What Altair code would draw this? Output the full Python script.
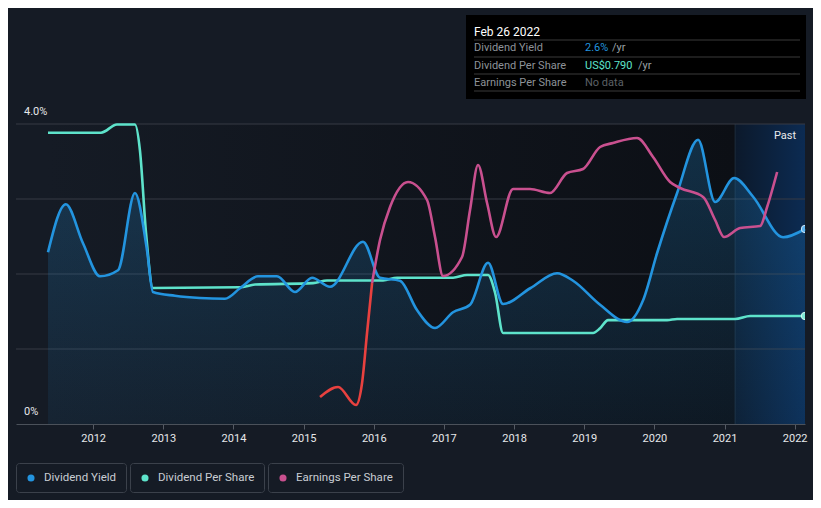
import altair as alt
import pandas as pd

# ---------------- data ----------------
dy_year = [2011.356, 2011.61, 2011.855, 2012.097, 2012.354, 2012.596, 2012.767, 2012.852,
           2013.166, 2013.522, 2013.879, 2014.093, 2014.349, 2014.62, 2014.877, 2015.12,
           2015.376, 2015.846, 2016.089, 2016.374, 2016.616, 2016.873, 2017.13, 2017.372,
           2017.629, 2017.843, 2018.23, 2018.613, 2018.841, 2019.226, 2019.611, 2019.839,
           2020.039, 2020.324, 2020.623, 2020.866, 2021.137, 2021.407, 2021.835, 2022.147]
dy_val = [2.29, 2.93, 2.41, 1.97, 2.05, 3.08, 2.32, 1.76,
          1.71, 1.68, 1.67, 1.81, 1.97, 1.97, 1.76, 1.95,
          1.83, 2.43, 1.95, 1.91, 1.52, 1.28, 1.49, 1.59,
          2.15, 1.60, 1.81, 2.01, 1.91, 1.59, 1.36, 1.65,
          2.28, 3.08, 3.79, 2.96, 3.28, 3.03, 2.49, 2.60]

dps_year = [2011.356, 2012.111, 2012.339, 2012.596, 2012.667, 2012.753, 2012.852, 2014.093,
            2014.307, 2015.134, 2015.334, 2016.132, 2016.332, 2017.13, 2017.33, 2017.629,
            2017.729, 2017.843, 2019.126, 2019.226, 2019.34, 2020.182, 2020.324, 2021.151,
            2021.365, 2022.147]
dps_val = [2.13, 2.13, 2.19, 2.19, 2.00, 1.40, 0.995, 1.00,
           1.02, 1.03, 1.05, 1.05, 1.07, 1.07, 1.09, 1.09,
           0.96, 0.666, 0.666, 0.70, 0.76, 0.76, 0.768, 0.768,
           0.79, 0.79]

eps_year = [2015.234, 2015.491, 2015.747, 2015.833, 2015.904, 2015.976, 2016.089, 2016.232,
            2016.488, 2016.759, 2016.873, 2016.987, 2017.258, 2017.372, 2017.486, 2017.615,
            2017.743, 2017.985, 2018.227, 2018.512, 2018.755, 2018.983, 2019.226, 2019.41,
            2019.753, 2019.981, 2020.224, 2020.367, 2020.695, 2020.866, 2020.994, 2021.222,
            2021.508, 2021.607, 2021.75]
eps_val = [-2.28, -2.08, -2.44, -2.00, -1.00, 0.0, 0.86, 1.52,
           2.02, 1.66, 0.92, 0.14, 0.52, 1.46, 2.36, 1.60,
           0.92, 1.88, 1.88, 1.80, 2.20, 2.28, 2.72, 2.80,
           2.90, 2.52, 2.02, 1.90, 1.72, 1.26, 0.92, 1.10,
           1.14, 1.52, 2.22]

x_ticks = list(range(2012, 2023))
grid_vals = [1, 2, 3, 4]
y_labels = ["0%", "4.0%"]
y_label_vals = [0, 4]
past_start = 2021.151
data_start = dy_year[0]
data_end = dy_year[-1]

tt_date = "Feb 26 2022"
tt_labels = ["Dividend Yield", "Dividend Per Share", "Earnings Per Share"]
tt_values = ["2.6%", "US$0.790", "No data"]
tt_units = ["/yr", "/yr", ""]
legend_names = ["Dividend Yield", "Dividend Per Share", "Earnings Per Share"]

# ---------------- styles ----------------
BG = "#151b25"
C_DY = "#2394df"
C_DPS = "#5ee3cb"
C_EPS = "#c9508f"
C_NEG = "#e8413f"
FONT = "Roboto"
W, H = 789, 300

xs = alt.Scale(domain=[2010.9, 2022.147], nice=False, zero=False)
xaxis = alt.Axis(values=x_ticks, format="d", title=None, grid=False, labelColor="#e6e8ea",
                 labelFontSize=11, labelFont=FONT, tickColor="#555b64", tickSize=5,
                 domainColor="#4b515a", labelPadding=3, labelFlush=False)
ys_dy = alt.Scale(domain=[0, 4], nice=False, zero=False)
ys_dps = alt.Scale(domain=[0, 2.194], nice=False, zero=False)
ys_eps = alt.Scale(domain=[-2.82, 3.18], nice=False, zero=False)

dy_df = pd.DataFrame({"year": dy_year, "val": dy_val})
dps_df = pd.DataFrame({"year": dps_year, "val": dps_val})
zi = eps_val.index(0.0)
eps_neg = pd.DataFrame({"year": eps_year[:zi + 1], "val": eps_val[:zi + 1]})
eps_pos = pd.DataFrame({"year": eps_year[zi:], "val": eps_val[zi:]})
one = alt.Data(values=[{"a": 1}])

X = lambda f: alt.X(f, type="quantitative", scale=xs, axis=xaxis)

# background regions
reg_df = pd.DataFrame({"x": [data_start], "x2": [past_start]})
bg_rect = alt.Chart(reg_df).mark_rect(
    fill=alt.Gradient(gradient="linear", x1=0, x2=1, y1=0, y2=0,
                      stops=[alt.GradientStop(color="#151b25", offset=0),
                             alt.GradientStop(color="#0c0f15", offset=1)])
).encode(x=X("x"), x2="x2", y=alt.value(0), y2=alt.value(H))

past_df = pd.DataFrame({"x": [past_start], "x2": [data_end]})
past_rect = alt.Chart(past_df).mark_rect(
    fill=alt.Gradient(gradient="linear", x1=0, x2=1, y1=0, y2=0,
                      stops=[alt.GradientStop(color="#0c192b", offset=0),
                             alt.GradientStop(color="#0c2b52", offset=1)])
).encode(x=X("x"), x2="x2", y=alt.value(0), y2=alt.value(H))
past_line = alt.Chart(past_df).mark_rule(color="#1d2b3c", strokeWidth=1).encode(
    x=X("x"), y=alt.value(0), y2=alt.value(H))

grid = alt.Chart(pd.DataFrame({"g": grid_vals})).mark_rule(color="#363b44", strokeWidth=1).encode(
    y=alt.Y("g:Q", scale=ys_dy, axis=None), x=alt.value(0), x2=alt.value(W))

area = alt.Chart(dy_df).mark_area(
    interpolate="monotone",
    color=alt.Gradient(gradient="linear", x1=0, x2=0, y1=0, y2=1,
                       stops=[alt.GradientStop(color="rgba(35,148,223,0.24)", offset=0),
                              alt.GradientStop(color="rgba(35,148,223,0.07)", offset=1)])
).encode(x=X("year"), y=alt.Y("val:Q", scale=ys_dy, axis=None))

dy_line = alt.Chart(dy_df).mark_line(interpolate="monotone", color=C_DY, strokeWidth=2.6).encode(
    x=X("year"), y=alt.Y("val:Q", scale=ys_dy, axis=None))
dps_line = alt.Chart(dps_df).mark_line(interpolate="monotone", color=C_DPS, strokeWidth=2.6).encode(
    x=X("year"), y=alt.Y("val:Q", scale=ys_dps, axis=None))
eps_neg_line = alt.Chart(eps_neg).mark_line(interpolate="monotone", color=C_NEG, strokeWidth=2.6).encode(
    x=X("year"), y=alt.Y("val:Q", scale=ys_eps, axis=None))
eps_pos_line = alt.Chart(eps_pos).mark_line(interpolate="monotone", color=C_EPS, strokeWidth=2.6).encode(
    x=X("year"), y=alt.Y("val:Q", scale=ys_eps, axis=None))

dy_end = alt.Chart(dy_df.tail(1)).mark_point(filled=True, size=55, color="#5cb2ef", stroke="#cfe6f8",
                                             strokeWidth=1, opacity=1, clip=True).encode(
    x=X("year"), y=alt.Y("val:Q", scale=ys_dy, axis=None))
dps_end = alt.Chart(dps_df.tail(1)).mark_point(filled=True, size=55, color="#7ee9d6", stroke="#d6faf3",
                                               strokeWidth=1, opacity=1, clip=True).encode(
    x=X("year"), y=alt.Y("val:Q", scale=ys_dps, axis=None))

ylab = alt.Chart(pd.DataFrame({"v": y_label_vals, "t": y_labels})).mark_text(
    align="left", baseline="middle", dy=-12, font=FONT, fontSize=11, color="#e6e8ea").encode(
    x=alt.value(8), y=alt.Y("v:Q", scale=ys_dy, axis=None), text="t:N")

past_txt = alt.Chart(one).mark_text(align="center", baseline="middle", font=FONT, fontSize=11,
                                     color="#e8eaec").encode(
    x=alt.value(769), y=alt.value(12), text=alt.value("Past"))

layers = [bg_rect, past_rect, past_line, grid, area, dps_line, dy_line, eps_neg_line, eps_pos_line,
          dy_end, dps_end, ylab, past_txt]

# tooltip box
layers.append(alt.Chart(one).mark_rect(fill="#000000").encode(
    x=alt.value(450), x2=alt.value(790), y=alt.value(-109), y2=alt.value(-25)))
for yy in [-84, -67, -50, -33]:
    layers.append(alt.Chart(one).mark_rule(color="#3a3a3a", strokeWidth=1).encode(
        x=alt.value(458), x2=alt.value(784), y=alt.value(yy)))
layers.append(alt.Chart(one).mark_text(align="left", baseline="middle", font=FONT, fontSize=12,
                                       color="#ffffff").encode(
    x=alt.value(458), y=alt.value(-92), text=alt.value(tt_date)))
val_colors = [C_DY, C_DPS, "#5c6066"]
unit_x = [596, 622]
for i, (lab, val, unit) in enumerate(zip(tt_labels, tt_values, tt_units)):
    yy = -76 + 17.5 * i
    layers.append(alt.Chart(one).mark_text(align="left", baseline="middle", font=FONT, fontSize=11,
                                           color="#8d9298").encode(
        x=alt.value(458), y=alt.value(yy), text=alt.value(lab)))
    layers.append(alt.Chart(one).mark_text(align="left", baseline="middle", font=FONT, fontSize=11,
                                           color=val_colors[i]).encode(
        x=alt.value(569), y=alt.value(yy), text=alt.value(val)))
    if unit:
        layers.append(alt.Chart(one).mark_text(align="left", baseline="middle", font=FONT, fontSize=11,
                                               color="#9aa0a6").encode(
            x=alt.value(unit_x[i]), y=alt.value(yy), text=alt.value(unit)))

# legend
box_x = [(0, 110), (114, 248), (252, 387)]
leg_cols = [C_DY, C_DPS, C_EPS]
for (x0, x1), name, col in zip(box_x, legend_names, leg_cols):
    layers.append(alt.Chart(one).mark_rect(fill=BG, stroke="#3b414b", strokeWidth=1, cornerRadius=3).encode(
        x=alt.value(x0 + 0.5), x2=alt.value(x1 + 0.5), y=alt.value(339.5), y2=alt.value(368.5)))
    layers.append(alt.Chart(one).mark_point(filled=True, size=50, color=col, opacity=1).encode(
        x=alt.value(x0 + 15), y=alt.value(354)))
    layers.append(alt.Chart(one).mark_text(align="left", baseline="middle", font=FONT, fontSize=11.5,
                                           color="#c9cdd3").encode(
        x=alt.value(x0 + 28), y=alt.value(354), text=alt.value(name)))

chart = alt.layer(*layers).resolve_scale(y="independent").properties(
    width=W, height=H,
    autosize=alt.AutoSizeParams(type="none"),
    padding={"left": 8, "top": 116, "right": 8, "bottom": 76},
    background=BG,
).configure_view(stroke=None)

chart.save("out.html", embed_options={"renderer": "svg", "actions": False})
